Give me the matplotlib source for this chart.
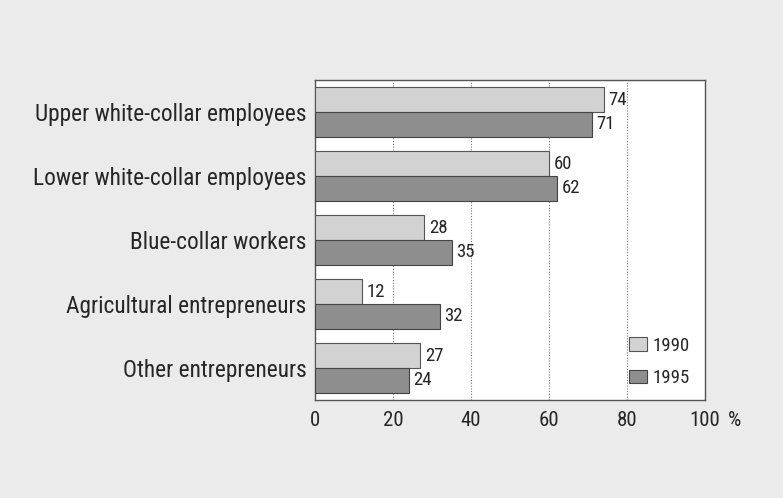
import matplotlib
matplotlib.use("Agg")
import matplotlib.pyplot as plt
from matplotlib.patches import Patch
import numpy as np

categories = [
    "Upper white-collar employees",
    "Lower white-collar employees",
    "Blue-collar workers",
    "Agricultural entrepreneurs",
    "Other entrepreneurs",
]
values_1990 = [74, 60, 28, 12, 27]
values_1995 = [71, 62, 35, 32, 24]
series_labels = ["1990", "1995"]
xticks = [0, 20, 40, 60, 80, 100]

plt.rcParams["font.family"] = ["Roboto Condensed", "DejaVu Sans"]
text_col = "#262626"
light, dark = "#d2d2d2", "#8e8e8e"

fig = plt.figure(figsize=(7.83, 4.98), dpi=100)
fig.patch.set_facecolor("#ebebeb")
ax = fig.add_axes([315 / 783, 1 - 400 / 498, 390 / 783, 320 / 498])
ax.set_facecolor("white")

y = np.arange(len(categories))
h = 0.39
b1 = ax.barh(y - h / 2, values_1990, height=h, color=light,
             edgecolor="#555555", linewidth=0.8, zorder=3)
b2 = ax.barh(y + h / 2, values_1995, height=h, color=dark,
             edgecolor="#444444", linewidth=0.8, zorder=3)

for bars, vals in ((b1, values_1990), (b2, values_1995)):
    for rect, v in zip(bars, vals):
        ax.text(v + 1.2, rect.get_y() + rect.get_height() / 2, str(v),
                va="center", ha="left", fontsize=13.5, color=text_col, zorder=4)

ax.set_xlim(0, 100)
ax.set_ylim(len(categories) - 0.5, -0.5)
ax.set_yticks(y)
ax.set_yticklabels(categories, fontsize=16.8, color=text_col)
ax.set_xticks(xticks)
ax.set_xticklabels([str(t) for t in xticks], fontsize=15, color=text_col)
ax.tick_params(axis="y", length=0, pad=6)
ax.tick_params(axis="x", length=0, pad=8)
ax.text(1.075, -8 / 320 * 100 / 72, "%", transform=ax.transAxes, fontsize=15,
        color=text_col, ha="center", va="top")

ax.xaxis.grid(True, linestyle=(0, (1, 1.5)), color="#777777", linewidth=0.8, zorder=1)
for s in ax.spines.values():
    s.set_color("#555555")
    s.set_linewidth(1.0)

handles = [Patch(facecolor=light, edgecolor="#555555", linewidth=0.8),
           Patch(facecolor=dark, edgecolor="#444444", linewidth=0.8)]
ax.legend(handles, series_labels, loc="lower right", bbox_to_anchor=(1.0, -0.006),
          frameon=False, fontsize=13.5, handlelength=0.95, handleheight=0.75,
          handletextpad=0.3, labelspacing=0.75, labelcolor=text_col,
          borderpad=0.3)

fig.savefig("out.png", dpi=100, facecolor=fig.get_facecolor())
